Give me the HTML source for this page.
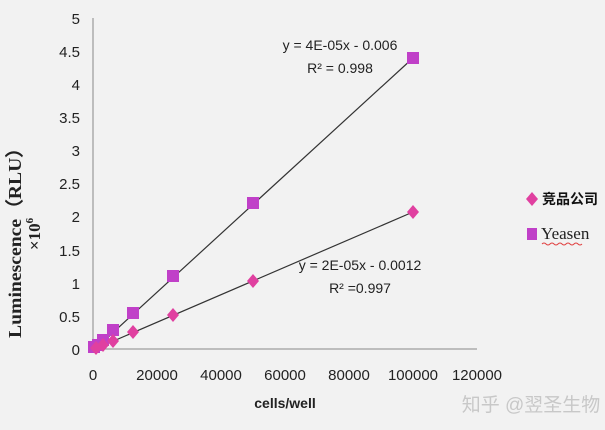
<!DOCTYPE html>
<html><head><meta charset="utf-8"><style>
body{margin:0;background:#f2f2f2;}
svg{display:block;font-family:"Liberation Sans","Noto Sans CJK SC",sans-serif;}
</style></head><body>
<svg width="605" height="430" viewBox="0 0 605 430">
<rect width="605" height="430" fill="#f2f2f2"/>
<line x1="93" y1="18" x2="93" y2="349" stroke="#888" stroke-width="1"/>
<line x1="93" y1="349" x2="477" y2="349" stroke="#888" stroke-width="1"/>
<g font-size="15" fill="#222" text-anchor="end">
<text x="80" y="355">0</text><text x="80" y="322">0.5</text><text x="80" y="289">1</text>
<text x="80" y="256">1.5</text><text x="80" y="222">2</text><text x="80" y="189">2.5</text>
<text x="80" y="156">3</text><text x="80" y="123">3.5</text><text x="80" y="90">4</text>
<text x="80" y="57">4.5</text><text x="80" y="24">5</text>
</g>
<g font-size="15" fill="#222" text-anchor="middle">
<text x="93" y="380">0</text><text x="157" y="380">20000</text><text x="221" y="380">40000</text>
<text x="285" y="380">60000</text><text x="349" y="380">80000</text><text x="413" y="380">100000</text>
<text x="477" y="380">120000</text>
</g>
<text x="285" y="408" font-size="14" font-weight="bold" text-anchor="middle" fill="#222">cells/well</text>
<g transform="translate(21,238) rotate(-90)" font-family="Liberation Serif,serif" font-weight="bold" fill="#222">
<text x="0" y="0" font-size="18" text-anchor="middle" textLength="200" lengthAdjust="spacingAndGlyphs">Luminescence（RLU）</text>
<text x="4" y="19" font-size="17" text-anchor="middle">×10<tspan font-size="11" dy="-7">6</tspan></text>
</g>
<line x1="95" y1="349" x2="413" y2="58" stroke="#333" stroke-width="1.2"/>
<line x1="95" y1="349" x2="413" y2="212" stroke="#333" stroke-width="1.2"/>
<g fill="#c040c8">
<rect x="407" y="52" width="12" height="12"/><rect x="247" y="197" width="12" height="12"/>
<rect x="167" y="270" width="12" height="12"/><rect x="127" y="307" width="12" height="12"/>
<rect x="107" y="324" width="12" height="12"/><rect x="97" y="334" width="12" height="12"/>
<rect x="92" y="339" width="12" height="12"/><rect x="88" y="341" width="12" height="12"/>
</g>
<g fill="#e040a0">
<path d="M413 205l6 7-6 7-6-7z"/><path d="M253 274l6 7-6 7-6-7z"/>
<path d="M173 308l6 7-6 7-6-7z"/><path d="M133 325l6 7-6 7-6-7z"/>
<path d="M113 334l6 7-6 7-6-7z"/><path d="M103 338l6 7-6 7-6-7z"/>
<path d="M96 341l6 7-6 7-6-7z"/>
</g>
<g font-size="14" fill="#222" text-anchor="middle">
<text x="340" y="50">y = 4E-05x - 0.006</text>
<text x="340" y="73">R² = 0.998</text>
<text x="360" y="270">y = 2E-05x - 0.0012</text>
<text x="360" y="293">R² =0.997</text>
</g>
<path d="M532 192l6 7-6 7-6-7z" fill="#e040a0"/>
<text x="542" y="204" font-size="14" font-weight="bold" fill="#111">竞品公司</text>
<rect x="527" y="228" width="10" height="12" fill="#c040c8"/>
<text x="541" y="239" font-size="17" font-family="Liberation Serif,serif" fill="#222">Yeasen</text>
<path d="M542 244q2-2 4 0t4 0 4 0 4 0 4 0 4 0 4 0 4 0 4 0 4 0" stroke="#e04040" fill="none" stroke-width="1"/>
<text x="531" y="411" font-size="19" fill="#c8c8c8" text-anchor="middle">知乎 @翌圣生物</text>
</svg>
</body></html>
